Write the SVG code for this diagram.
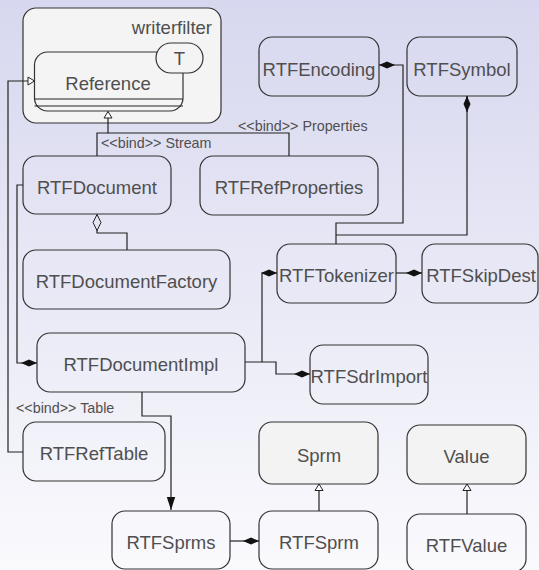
<svg xmlns="http://www.w3.org/2000/svg" width="539" height="570" viewBox="0 0 539 570">
  <style>
    .node { fill: none; stroke: #333; stroke-width: 1.2; }
    .iface { fill: #f3f3f3; stroke: #333; stroke-width: 1.2; }
    .pkg { fill: #f4f4f4; stroke: #333; stroke-width: 1.2; }
    .lbl { font-family: "Liberation Sans", Arial, sans-serif; font-size: 18.5px; fill: #4f4f4f; text-anchor: middle; }
    .small { font-family: "Liberation Sans", Arial, sans-serif; font-size: 14.3px; fill: #4f4f4f; }
    .conn { fill: none; stroke: #222; stroke-width: 1.2; }
  </style>
  <defs>
    <linearGradient id="bg" x1="0" y1="0" x2="0" y2="1">
      <stop offset="0" stop-color="#d7d7ef"/>
      <stop offset="1" stop-color="#fafafd"/>
    </linearGradient>
    <!-- composition: filled diamond, drawn behind the attach point -->
    <marker id="compose" markerUnits="userSpaceOnUse" orient="auto-start-reverse" refX="0" refY="0" markerWidth="20" markerHeight="10" overflow="visible">
      <path d="M0,0 L-8,-3.5 L-16,0 L-8,3.5 Z" fill="#111"/>
    </marker>
    <!-- aggregation: hollow diamond -->
    <marker id="aggregate" markerUnits="userSpaceOnUse" orient="auto-start-reverse" refX="0" refY="0" markerWidth="20" markerHeight="10" overflow="visible">
      <path d="M0,0 L-8,-4 L-16,0 L-8,4 Z" fill="#e3e3f4" stroke="#222" stroke-width="1"/>
    </marker>
    <!-- generalization / binding: hollow triangle -->
    <marker id="realize" markerUnits="userSpaceOnUse" orient="auto" refX="0" refY="0" markerWidth="10" markerHeight="10" overflow="visible">
      <path d="M0,0 L-6.5,-4 L-6.5,4 Z" fill="#fff" stroke="#222" stroke-width="1"/>
    </marker>
    <!-- navigable association: filled arrow -->
    <marker id="arrow" markerUnits="userSpaceOnUse" orient="auto" refX="0" refY="0" markerWidth="16" markerHeight="10" overflow="visible">
      <path d="M0,0 L-13,-4.2 L-13,4.2 Z" fill="#111"/>
    </marker>
  </defs>

  <rect x="0" y="0" width="539" height="570" fill="url(#bg)"/>

  <!-- package writerfilter with template class Reference<T> -->
  <g id="writerfilter">
    <rect class="pkg" x="23" y="8" width="198" height="115" rx="13"/>
    <text class="lbl" x="212" y="34" style="text-anchor:end">writerfilter</text>
    <g id="Reference">
      <rect class="pkg" x="34.5" y="52" width="148.5" height="59" rx="13"/>
      <line class="conn" x1="34.5" y1="99" x2="183" y2="99"/>
      <line class="conn" x1="34.5" y1="106" x2="183" y2="106"/>
      <text class="lbl" x="108" y="90">Reference</text>
      <rect class="pkg" x="156" y="43" width="47" height="30" rx="15"/>
      <text class="lbl" x="179.5" y="65">T</text>
    </g>
  </g>

  <g id="RTFEncoding"><rect class="node" x="259" y="37" width="120" height="59" rx="13"/><text class="lbl" x="319" y="76">RTFEncoding</text></g>
  <g id="RTFSymbol"><rect class="node" x="407" y="37" width="110" height="59" rx="13"/><text class="lbl" x="462" y="76">RTFSymbol</text></g>
  <g id="RTFDocument"><rect class="node" x="23" y="156" width="148" height="58" rx="13"/><text class="lbl" x="97" y="194">RTFDocument</text></g>
  <g id="RTFRefProperties"><rect class="node" x="200" y="156" width="178" height="59" rx="13"/><text class="lbl" x="289" y="194">RTFRefProperties</text></g>
  <g id="RTFDocumentFactory"><rect class="node" x="23" y="250" width="207" height="59" rx="13"/><text class="lbl" x="126.5" y="288">RTFDocumentFactory</text></g>
  <g id="RTFTokenizer"><rect class="node" x="277" y="244" width="119" height="59" rx="13"/><text class="lbl" x="336.5" y="282">RTFTokenizer</text></g>
  <g id="RTFSkipDest"><rect class="node" x="422" y="244" width="116" height="59" rx="13"/><text class="lbl" x="481" y="282">RTFSkipDest</text></g>
  <g id="RTFDocumentImpl"><rect class="node" x="37" y="333" width="208" height="59" rx="13"/><text class="lbl" x="141" y="371">RTFDocumentImpl</text></g>
  <g id="RTFSdrImport"><rect class="node" x="310" y="345" width="118" height="59" rx="13"/><text class="lbl" x="369" y="383">RTFSdrImport</text></g>
  <g id="RTFRefTable"><rect class="node" x="23" y="422" width="142" height="59" rx="13"/><text class="lbl" x="94" y="460">RTFRefTable</text></g>
  <g id="Sprm"><rect class="iface" x="259" y="422" width="119" height="62" rx="13"/><text class="lbl" x="319" y="462">Sprm</text></g>
  <g id="Value"><rect class="iface" x="407" y="425" width="119" height="59" rx="13"/><text class="lbl" x="466.5" y="463">Value</text></g>
  <g id="RTFSprms"><rect class="node" x="112" y="511" width="118" height="58" rx="13"/><text class="lbl" x="171" y="549">RTFSprms</text></g>
  <g id="RTFSprm"><rect class="node" x="259" y="511" width="119" height="58" rx="13"/><text class="lbl" x="319" y="549">RTFSprm</text></g>
  <g id="RTFValue"><rect class="node" x="407" y="514" width="119" height="58" rx="13"/><text class="lbl" x="466.5" y="552">RTFValue</text></g>

  <g id="connectors">
    <!-- template bindings -->
    <path class="conn" d="M23,452 H8 V81 H34.5" marker-end="url(#realize)"/>
    <path class="conn" d="M97,156 V133 H108 V111.5" marker-end="url(#realize)"/>
    <path class="conn" d="M289,156 V133 H108"/>
    <text class="small" x="101" y="148">&lt;&lt;bind&gt;&gt; Stream</text>
    <text class="small" x="238" y="131">&lt;&lt;bind&gt;&gt; Properties</text>
    <text class="small" x="16" y="413">&lt;&lt;bind&gt;&gt; Table</text>

    <!-- aggregation and compositions -->
    <path class="conn" d="M97,214.5 V233 H127 V250" marker-start="url(#aggregate)"/>
    <path class="conn" d="M23,185 H17 V363 H37" marker-end="url(#compose)"/>
    <path class="conn" d="M379,65 H403 V223 H336 V244" marker-start="url(#compose)"/>
    <path class="conn" d="M467,96 V235 H336"/>
    <path class="conn" d="M467,96 V112" marker-start="url(#compose)"/>
    <path class="conn" d="M277,273 H262 V362" marker-start="url(#compose)"/>
    <path class="conn" d="M245,362 H276 V374 H310" marker-end="url(#compose)"/>
    <path class="conn" d="M396,273 H422" marker-end="url(#compose)"/>
    <path class="conn" d="M230,541 H259" marker-end="url(#compose)"/>

    <!-- association -->
    <path class="conn" d="M142,392 V416 H171 V510" marker-end="url(#arrow)"/>

    <!-- generalizations -->
    <path class="conn" d="M319,511 V484" marker-end="url(#realize)"/>
    <path class="conn" d="M467,514 V484" marker-end="url(#realize)"/>
  </g>
</svg>
